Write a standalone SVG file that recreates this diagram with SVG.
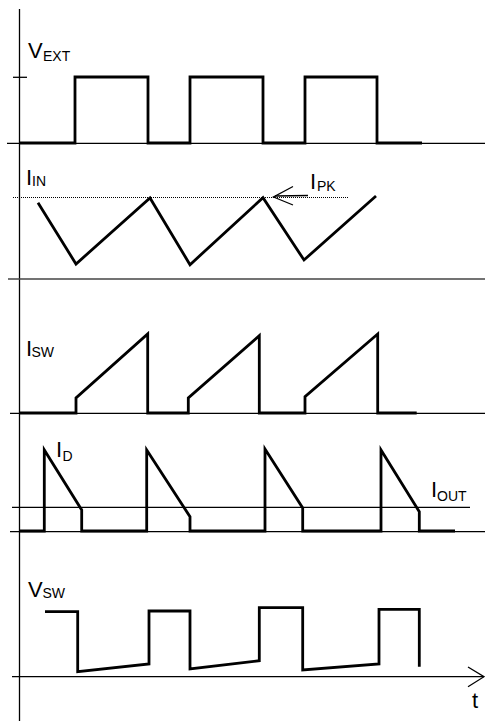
<svg xmlns="http://www.w3.org/2000/svg" width="485" height="721" viewBox="0 0 485 721">
<style>
.ax{stroke:#000;stroke-width:1.3;fill:none}
.sep{stroke:#444;stroke-width:1.3;fill:none}
.wave{stroke:#000;stroke-width:2.8;fill:none;stroke-linejoin:miter;stroke-linecap:butt}
.thin{stroke:#000;stroke-width:1.3;fill:none}
.dot{stroke:#000;stroke-width:1;stroke-dasharray:1 1;fill:none}
text{font-family:"Liberation Sans",Arial,sans-serif;fill:#000}
.m{font-size:22px}
.s{font-size:14px}
</style>
<rect width="485" height="721" fill="#fff"/>
<g id="axes">
<line class="ax" x1="19.5" y1="9" x2="19.5" y2="721"/>
<line class="ax" x1="7" y1="143.3" x2="485" y2="143.3"/>
<line class="ax" x1="13" y1="77.3" x2="27" y2="77.3"/>
<line class="sep" x1="8" y1="279" x2="485" y2="279"/>
<line class="ax" x1="10" y1="413.3" x2="485" y2="413.3"/>
<line class="ax" x1="12" y1="507.3" x2="470" y2="507.3"/>
<line class="ax" x1="10" y1="531.7" x2="485" y2="531.7"/>
<line class="ax" x1="12" y1="676.7" x2="484" y2="676.7"/>
<polyline class="ax" points="468,667 484,676.7 468,686.7"/>
<line class="dot" x1="13" y1="197.5" x2="348" y2="197.5"/>
</g>
<g id="vext">
<path class="wave" d="M20,143 H75 V77 H148 V143 H190 V77 H263 V143 H305 V77 H377 V143 H422"/>
<text class="m" x="28" y="57.5">V</text><text class="s" x="43" y="61">EXT</text>
</g>
<g id="iin">
<path class="wave" d="M38,202.7 L76,264 L150,198 L190,264.7 L263,197.7 L304,260 L376,196"/>
<text class="m" x="26" y="185">I</text><text class="s" x="32" y="185.5">IN</text>
</g>
<g id="ipk">
<text class="m" x="310" y="189">I</text><text class="s" x="317" y="191">PK</text>
</g>
<g id="connectors">
<line class="thin" x1="275" y1="196" x2="308" y2="195.5"/>
<polyline class="thin" points="293,186.5 273.5,197 293,205"/>
</g>
<g id="isw">
<path class="wave" d="M20,413 H76 V398 L147.7,334 V413 H188.3 V398 L259.3,335.7 V413 H305 V396.7 L377.7,334 V413 H416.7"/>
<text class="m" x="26" y="356">I</text><text class="s" x="31.5" y="357">SW</text>
</g>
<g id="id">
<path class="wave" d="M20,531 H44.3 V450 L81.7,510 V531 H146.7 V450 L190,516.7 V531 H265 V449 L302.7,508 V531 H381 V450 L419.3,511.7 V531 H455"/>
<text class="m" x="56" y="457">I</text><text class="s" x="62.5" y="461">D</text>
</g>
<g id="iout">
<text class="m" x="431" y="497">I</text><text class="s" x="437" y="501">OUT</text>
</g>
<g id="vsw">
<path class="wave" d="M45,611.7 H77.7 V671.7 L149,664 V611 H190 V669 L259.3,660.7 V607.7 H302.7 V670 L379,664 V609.3 H419.3 V666.7"/>
<text class="m" x="28" y="597">V</text><text class="s" x="42.5" y="597.5">SW</text>
</g>
<g id="t">
<text class="m" x="472" y="708">t</text>
</g>
</svg>
